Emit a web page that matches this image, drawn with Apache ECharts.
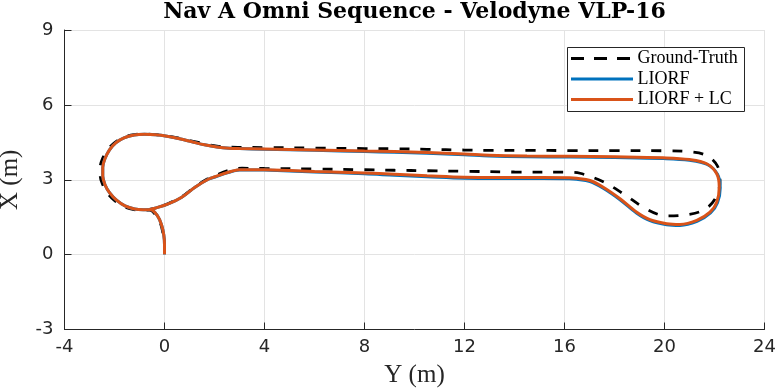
<!DOCTYPE html>
<html>
<head>
<meta charset="utf-8">
<script src="https://cdn.jsdelivr.net/npm/echarts@6/dist/echarts.min.js"></script>
<style>html,body{margin:0;padding:0;background:#fff}#c{width:777px;height:391px}</style>
</head>
<body>
<div id="c"></div>
<script>
// Horizontal coordinate is "Y (m)", vertical is "X (m)"
const xTicks = [-4, 0, 4, 8, 12, 16, 20, 24];
const yTicks = [-3, 0, 3, 6, 9];

const gtY = [0.00, 0.00, -0.05, -0.15, -0.33, -0.60, -0.88, -1.22, -1.62, -1.98, -2.28, -2.47, -2.57, -2.57, -2.47, -2.26, -1.98, -1.64, -1.22, -0.80, -0.35, 0.10, 0.60, 1.10, 1.60, 2.10, 2.60, 3.00, 4.00, 6.00, 8.00, 9.20, 10.50, 12.00, 13.00, 14.50, 16.20, 18.00, 20.00, 21.00, 21.69, 22.12, 22.22, 22.00, 21.55, 20.89, 20.09, 19.29, 18.35, 17.55, 16.62, 16.20, 14.00, 12.00, 10.50, 9.20, 8.00, 6.00, 4.00, 3.10, 2.50, 2.00, 1.75, 1.22, 0.69, 0.15, -0.38, -0.60];
const gtX = [0.02, 0.40, 0.80, 1.22, 1.56, 1.78, 1.78, 1.80, 1.92, 2.15, 2.46, 2.80, 3.15, 3.50, 3.87, 4.22, 4.50, 4.70, 4.81, 4.83, 4.81, 4.76, 4.66, 4.55, 4.44, 4.35, 4.31, 4.30, 4.29, 4.27, 4.25, 4.24, 4.22, 4.19, 4.18, 4.18, 4.17, 4.17, 4.16, 4.12, 3.97, 3.55, 2.95, 2.20, 1.78, 1.60, 1.55, 1.82, 2.44, 2.92, 3.26, 3.30, 3.31, 3.34, 3.36, 3.38, 3.40, 3.43, 3.45, 3.46, 3.36, 3.15, 3.05, 2.72, 2.32, 2.05, 1.86, 1.80];

const liorfY = [0.00, 0.00, -0.03, -0.12, -0.28, -0.55, -0.85, -1.20, -1.58, -1.92, -2.20, -2.38, -2.47, -2.47, -2.38, -2.20, -1.95, -1.62, -1.22, -0.80, -0.35, 0.10, 0.60, 1.10, 1.60, 2.10, 2.60, 3.00, 4.00, 6.00, 8.00, 9.20, 10.50, 12.00, 13.00, 14.50, 16.20, 18.00, 19.95, 21.00, 21.71, 22.12, 22.23, 22.12, 21.84, 21.30, 20.62, 20.09, 19.42, 18.89, 18.22, 17.55, 17.02, 16.49, 16.20, 14.00, 12.00, 10.50, 9.20, 8.00, 6.00, 4.00, 3.10, 2.55, 2.02, 1.75, 1.22, 0.69, 0.15, -0.38, -0.60];
const liorfX = [0.02, 0.40, 0.80, 1.20, 1.55, 1.80, 1.80, 1.83, 1.95, 2.18, 2.48, 2.80, 3.15, 3.50, 3.85, 4.20, 4.48, 4.68, 4.79, 4.82, 4.80, 4.74, 4.64, 4.52, 4.40, 4.31, 4.26, 4.25, 4.22, 4.18, 4.13, 4.10, 4.06, 4.00, 3.95, 3.92, 3.91, 3.89, 3.85, 3.78, 3.61, 3.22, 2.68, 2.08, 1.67, 1.33, 1.17, 1.20, 1.36, 1.66, 2.20, 2.66, 2.93, 3.02, 3.04, 3.05, 3.06, 3.12, 3.18, 3.24, 3.31, 3.39, 3.40, 3.29, 3.11, 3.02, 2.70, 2.30, 2.03, 1.86, 1.81];

const lcY = [0.00, 0.00, -0.03, -0.12, -0.28, -0.55, -0.85, -1.20, -1.58, -1.92, -2.20, -2.38, -2.47, -2.47, -2.38, -2.20, -1.95, -1.62, -1.22, -0.80, -0.35, 0.10, 0.60, 1.10, 1.60, 2.10, 2.60, 3.00, 4.00, 6.00, 8.00, 9.20, 10.50, 12.00, 13.00, 14.50, 16.20, 18.00, 19.95, 21.00, 21.69, 22.09, 22.19, 22.09, 21.82, 21.29, 20.62, 20.09, 19.42, 18.89, 18.22, 17.55, 17.02, 16.49, 16.20, 14.00, 12.00, 10.50, 9.20, 8.00, 6.00, 4.00, 3.10, 2.55, 2.02, 1.75, 1.22, 0.69, 0.15, -0.38, -0.60];
const lcX = [0.02, 0.40, 0.80, 1.20, 1.55, 1.80, 1.80, 1.83, 1.95, 2.18, 2.48, 2.80, 3.15, 3.50, 3.85, 4.20, 4.48, 4.68, 4.79, 4.82, 4.80, 4.74, 4.64, 4.52, 4.40, 4.31, 4.26, 4.25, 4.23, 4.19, 4.15, 4.13, 4.09, 4.03, 3.98, 3.95, 3.94, 3.92, 3.88, 3.81, 3.64, 3.24, 2.70, 2.10, 1.70, 1.37, 1.21, 1.24, 1.40, 1.70, 2.24, 2.70, 2.97, 3.06, 3.08, 3.09, 3.10, 3.16, 3.22, 3.27, 3.33, 3.40, 3.41, 3.30, 3.12, 3.02, 2.70, 2.30, 2.03, 1.86, 1.81];

const names = ['Ground-Truth', 'LIORF', 'LIORF + LC'];
const colors = ['#000000', '#0072BD', '#D95319'];

function pairs(a, b) { return a.map((v, i) => [v, b[i]]); }

// Legend drawn as graphic elements (box, line samples, labels)
const legendRows = [58.5, 79, 99.5];
const legendGraphic = [{
  type: 'rect', shape: {x: 567.5, y: 47.5, width: 177, height: 64},
  style: {fill: '#fff', stroke: '#262626', lineWidth: 1}, z: 100
}];
names.forEach((n, i) => {
  legendGraphic.push({
    type: 'line', shape: {x1: 571, y1: legendRows[i], x2: 633, y2: legendRows[i]},
    style: {stroke: colors[i], lineWidth: i === 0 ? 2.8 : 3, lineDash: i === 0 ? [13, 10] : null}, z: 101
  });
  legendGraphic.push({
    type: 'text', x: 637.5, y: legendRows[i],
    style: {text: n, font: '18px "Liberation Serif"', fill: '#000', textVerticalAlign: 'middle', verticalAlign: 'middle'}, z: 101
  });
});

const chart = echarts.init(document.getElementById('c'), null, {renderer: 'canvas'});
const tickColor = '#262626';
const gridColor = '#e3e3e3';
chart.setOption({
  animation: false,
  backgroundColor: '#ffffff',
  grid: {left: 64.5, right: 12.5, top: 30, bottom: 61.5, containLabel: false, outerBoundsMode: 'none'},
  graphic: [{
    type: 'text', x: 414.5, y: 1,
    style: {text: 'Nav A Omni Sequence - Velodyne VLP-16', textAlign: 'center',
      font: 'bold 22px "DejaVu Serif"', fill: '#000'}
  }].concat(legendGraphic),
  xAxis: {
    type: 'value', min: xTicks[0], max: xTicks[xTicks.length - 1], interval: 4,
    name: 'Y (m)', nameLocation: 'middle', nameGap: 33,
    nameTextStyle: {fontFamily: 'Liberation Serif', fontSize: 25, color: '#262626'},
    axisLine: {show: true, onZero: false, lineStyle: {color: tickColor, width: 1}},
    axisTick: {show: true, inside: true, length: 7, lineStyle: {color: tickColor}},
    axisLabel: {color: tickColor, fontSize: 18, fontFamily: 'DejaVu Sans', margin: 9},
    splitLine: {show: true, lineStyle: {color: gridColor, width: 1}}
  },
  yAxis: {
    type: 'value', min: yTicks[0], max: yTicks[yTicks.length - 1], interval: 3,
    name: 'X (m)', nameLocation: 'middle', nameGap: 42, nameRotate: 90,
    nameTextStyle: {fontFamily: 'Liberation Serif', fontSize: 25, color: '#262626'},
    axisLine: {show: true, onZero: false, lineStyle: {color: tickColor, width: 1}},
    axisTick: {show: true, inside: true, length: 7, lineStyle: {color: tickColor}},
    axisLabel: {color: tickColor, fontSize: 18, fontFamily: 'DejaVu Sans', margin: 11},
    splitLine: {show: true, lineStyle: {color: gridColor, width: 1}}
  },
  series: [
    {name: names[0], type: 'line', data: pairs(gtY, gtX), showSymbol: false, symbol: 'none', smooth: 0.35,
      lineStyle: {color: colors[0], width: 2.8, type: [10, 11]}, z: 2},
    {name: names[1], type: 'line', data: pairs(liorfY, liorfX), showSymbol: false, symbol: 'none', smooth: 0.35,
      lineStyle: {color: colors[1], width: 3}, z: 3},
    {name: names[2], type: 'line', data: pairs(lcY, lcX), showSymbol: false, symbol: 'none', smooth: 0.35,
      lineStyle: {color: colors[2], width: 3}, z: 4}
  ]
});
</script>
</body>
</html>
